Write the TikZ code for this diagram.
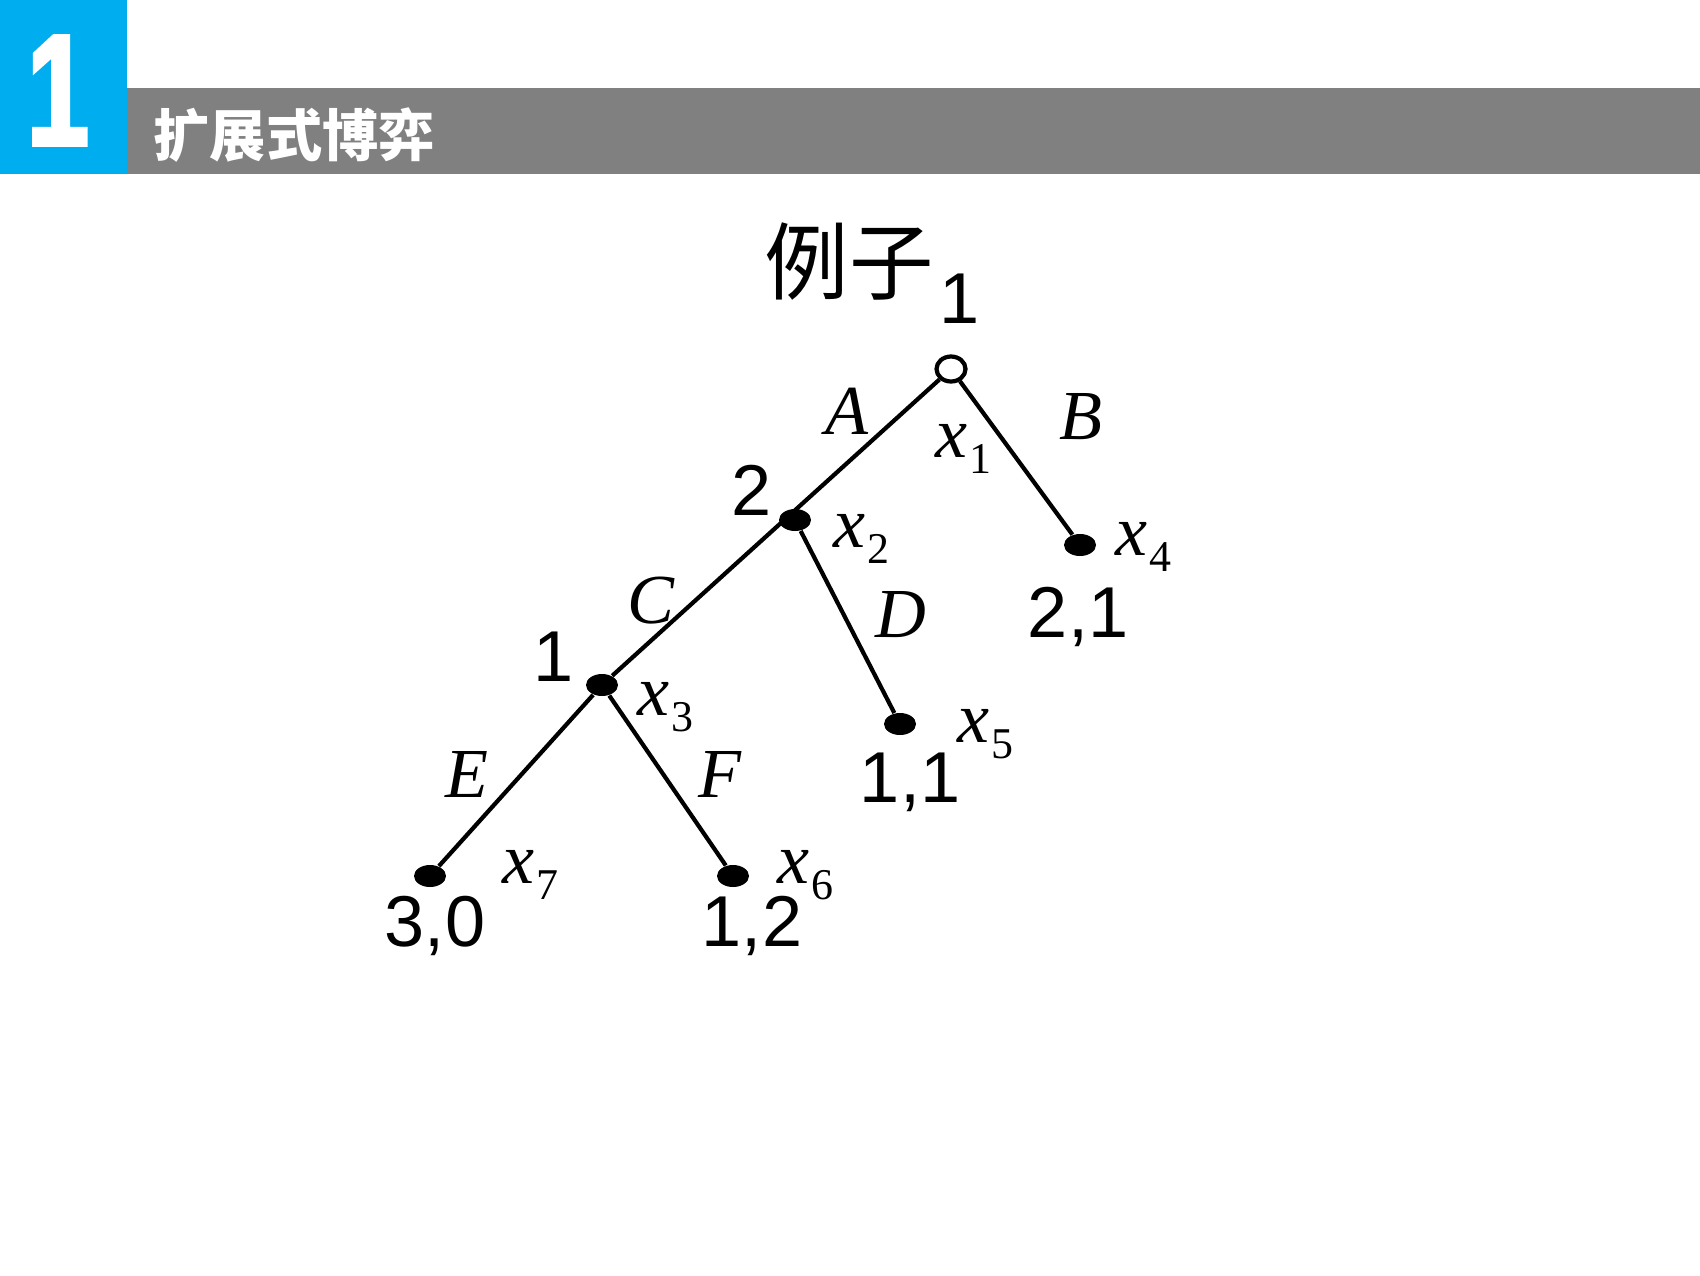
\documentclass[tikz,border=0pt]{standalone}
\usepackage{fontspec}
\setmainfont{Liberation Serif}
\newfontfamily\cjk{Noto Sans CJK SC}
\newfontfamily\digits{Liberation Sans}
\newfontfamily\headnum{Liberation Sans}[UprightFont=* Bold,FakeStretch=0.7,FakeBold=2.5]
\usetikzlibrary{shapes.geometric}
\definecolor{headblue}{RGB}{0,174,239}
\definecolor{headgray}{RGB}{128,128,128}
\newcommand{\xlab}[1]{\textit{x}\kern0.6pt\raisebox{-4.6pt}{\fontsize{12.5}{12.5}\selectfont #1}}

\begin{document}
\begin{tikzpicture}[x=0.1mm,y=-0.1mm]
				\tikzstyle{every node}=[inner sep=0pt]
				\tikzstyle{move}=[line width=1.2pt]
				\tikzstyle{dec}=[ellipse,fill=black,minimum width=3.2mm,minimum height=2.2mm]
				\tikzstyle{start}=[ellipse,draw=black,fill=white,line width=1.2pt,minimum width=2.9mm,minimum height=2.5mm]
				\tikzstyle{player}=[font=\digits\fontsize{20.5}{20.5}\selectfont,anchor=base]
				\tikzstyle{act}=[font=\itshape\fontsize{20}{20}\selectfont,anchor=base]
				\tikzstyle{vlab}=[font=\fontsize{20.5}{20.5}\selectfont,anchor=base west]
				\tikzstyle{pay}=[font=\digits\fontsize{20.5}{20.5}\selectfont,anchor=base]
				\useasboundingbox (0,0) rectangle (1700,1275);
				% header
				\fill[headblue] (0,0) rectangle (127,174);
				\fill[headgray] (127,88) rectangle (1700,174);
				\node[text=white,font=\headnum\fontsize{45}{45}\selectfont,anchor=base] (num) at (58,145) {1};
				\node[text=white,font=\cjk\bfseries\fontsize{16}{16}\selectfont,anchor=west] (title) at (153,135) {扩展式博弈};
				\node[font=\cjk\fontsize{24}{24}\selectfont] (ex) at (849,262) {例子};
				% nodes of the tree
				\node[start] (x1) at (951,369) {};
				\node[dec] (x2) at (795,520) {};
				\node[dec] (x4) at (1080,545) {};
				\node[dec] (x3) at (602,685) {};
				\node[dec] (x5) at (900,724) {};
				\node[dec] (x7) at (430,876) {};
				\node[dec] (x6) at (733,876) {};
				% moves (A and C lie on one line)
				\draw[move] (x1) -- (x3);
				\draw[move] (x1) -- (x4);
				\draw[move] (x2) -- (x5);
				\draw[move] (x3) -- (x7);
				\draw[move] (x3) -- (x6);
				% players
				\node[player] (p1) at (960,323) {1};
				\node[player] (p2) at (752,515) {2};
				\node[player] (p3) at (554,681) {1};
				% actions
				\node[act] (A) at (847,434) {A};
				\node[act] (B) at (1081,439) {B};
				\node[act] (C) at (651,623) {C};
				\node[act] (D) at (901,637) {D};
				\node[act] (E) at (467,797) {E};
				\node[act] (F) at (720,797) {F};
				% vertex labels
				\node[vlab] (l1) at (935,457) {\xlab{1}};
				\node[vlab] (l2) at (833,547) {\xlab{2}};
				\node[vlab] (l4) at (1115,555) {\xlab{4}};
				\node[vlab] (l3) at (637,715) {\xlab{3}};
				\node[vlab] (l5) at (957,742) {\xlab{5}};
				\node[vlab] (l7) at (502,883) {\xlab{7}};
				\node[vlab] (l6) at (777,883) {\xlab{6}};
				% payoffs
				\node[pay] (u4) at (1078,637) {2,1};
				\node[pay] (u5) at (910,802) {1,1};
				\node[pay] (u7) at (435,946) {3,0};
				\node[pay] (u6) at (752,946) {1,2};
\end{tikzpicture}
\end{document}
